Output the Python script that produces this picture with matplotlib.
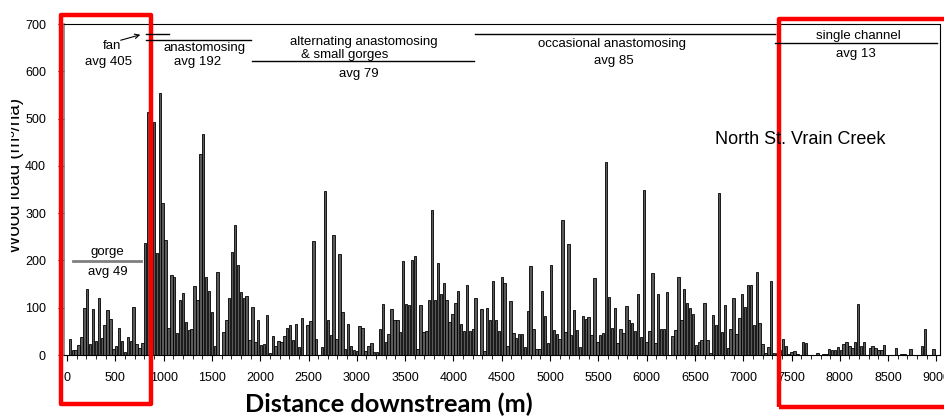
import numpy as np
import matplotlib
matplotlib.use("Agg")
import matplotlib.pyplot as plt
from matplotlib.patches import Rectangle, FancyArrowPatch
from matplotlib.lines import Line2D
from matplotlib.transforms import Bbox

plt.rcParams['font.family'] = ['Liberation Sans', 'DejaVu Sans']

# wood load per ~30 m reach (upstream -> downstream)
wood_load = [
    33, 10, 10, 21, 39, 99, 139, 23, 97, 30,
    120, 35, 63, 96, 77, 13, 19, 57, 29, 6,
    39, 30, 102, 23, 14, 25, 237, 513, 200, 492,
    215, 554, 322, 244,
    58, 170, 164, 47, 116, 132, 69, 53, 55, 146,
    116, 425, 467, 164, 135, 91, 18, 176, 0, 49,
    74, 120, 218, 275, 190, 133, 120, 124, 32, 101,
    28, 75, 21, 23, 85,
    4, 40, 18, 29, 27, 41, 57, 63, 32, 66,
    16, 78, 1, 63, 72, 241, 34, 1, 16, 347,
    74, 42, 254, 33, 213, 91, 12, 65, 20, 11,
    9, 61, 58, 8, 20,
    25, 6, 7, 56, 107, 28, 44, 97, 75, 74,
    49, 199, 107, 106, 200, 209, 12, 106, 49, 51,
    116, 306, 116, 194, 130, 153, 116, 69, 87, 111,
    136, 65, 51, 147, 51, 54, 121, 0, 97, 8,
    99, 75, 156, 74, 51, 164, 152, 18, 114, 47,
    37, 44, 44, 16, 92, 188, 56, 12, 12, 136,
    83, 26, 190, 53, 44, 34, 285, 48, 234, 42,
    95, 53, 16, 83, 76, 80, 42, 162, 28, 42,
    46, 408, 123, 58, 100,
    26, 56, 47, 104, 73, 67, 51, 128, 39, 350,
    27, 51, 174, 25, 130, 55, 56, 134, 0, 41,
    53, 164, 73, 139, 109, 100, 86, 21, 28, 32,
    109, 32, 4, 85, 63, 342, 49, 106, 14, 55,
    120, 44, 78, 128, 102, 147, 149, 63, 176, 67,
    23, 5, 16, 156, 4, 5, 11, 33, 20, 2,
    6, 8, 2, 0, 27, 25, 0, 1, 1, 4,
    1, 2, 2, 13, 10, 10, 16, 10, 23, 27,
    19, 14, 27, 108, 19, 27, 0, 14, 18, 14,
    10, 10, 22, 1, 1, 0, 14, 0, 3, 2,
    0, 12, 0, 0, 0, 18, 56, 0, 0, 13,
]
reach_length = 30
distance = np.arange(1, len(wood_load) + 1) * reach_length

# reach types and their average wood load
zones = ["fan", "anastomosing", "alternating anastomosing\n& small gorges",
         "occasional anastomosing", "single channel", "gorge"]
zone_avg = [405, 192, 79, 85, 13, 49]

W, H = 945, 417

def fp(x, y):
  # pixel position (from top-left) -> figure fraction
  return x / W, 1 - y / H

fig = plt.figure(figsize=(W / 100, H / 100), dpi=100)
ax = fig.add_axes([64 / W, 1 - 355 / H, 876 / W, 331 / H])
ax.bar(distance, wood_load, width=25, color='#5a5a5a', edgecolor='black', linewidth=0.6)
ax.set_xlim(-31, 9037)
ax.set_ylim(0, 700)
ax.set_xticks(range(0, 9001, 500))
ax.set_xticks(range(0, 9001, 100), minor=True)
ax.set_yticks(range(0, 701, 100))
ax.tick_params(axis='both', which='major', labelsize=9, length=4, direction='out')
ax.tick_params(axis='x', which='minor', length=3)
ax.tick_params(axis='x', pad=8)
ax.tick_params(axis='y', pad=9)
ax.spines['left'].set_color('#808080')
ax.spines['left'].set_linewidth(1.2)

# annotation lines (pixel coords)
def hline(x0, x1, y, color='black', lw=1.0):
  a, b = fp(x0, y)
  c, _ = fp(x1, y)
  fig.add_artist(Line2D([a, c], [b, b], color=color, lw=lw, transform=fig.transFigure))

hline(146, 169, 34)
hline(146, 251, 40)
hline(252, 474, 61)
hline(475, 775, 34)
hline(775, 937, 43)
hline(73, 141, 261, color='#808080', lw=2.0)
fig.add_artist(FancyArrowPatch(fp(118, 41), fp(143, 34), transform=fig.transFigure,
                               arrowstyle='->', mutation_scale=8, lw=0.8, color='black'))

def label(x, y, s, size=9.5):
  fig.text(*fp(x, y), s, ha='center', va='center', fontsize=size)

label(112, 46, zones[0])
label(109, 62, "avg %d" % zone_avg[0])
label(205, 48, zones[1])
label(198, 62, "avg %d" % zone_avg[1])
alt = zones[2].split("\n")
label(364, 42, alt[0])
label(345, 55, alt[1])
label(359, 74, "avg %d" % zone_avg[2])
label(612, 44, zones[3])
label(614, 61, "avg %d" % zone_avg[3])
label(858, 36, zones[4])
label(856, 54, "avg %d" % zone_avg[4])
label(107, 252, zones[5])
label(108, 272, "avg %d" % zone_avg[5])
label(800, 140, "North St. Vrain Creek", size=13)

fig.text(*fp(389, 404), "Distance downstream (m)", ha='center', va='center',
         fontsize=18.3, fontweight='bold', family=['Lato', 'DejaVu Sans'])

# y label is cut off on the left in the original
ylab = fig.text(*fp(20, 175), "Wood load (m\u00b3/ha)", ha='center', va='baseline',
                rotation=90, rotation_mode='anchor', fontsize=13.5)
ylab.set_clip_box(Bbox.from_extents(11, 0, 40, H))
ylab.set_clip_on(True)

# red highlight boxes
for x0, y0, x1, y1 in [(61, 15, 151, 404), (779, 19, 965, 407)]:
  fig.add_artist(Rectangle(fp(x0, y1), (x1 - x0) / W, (y1 - y0) / H, transform=fig.transFigure,
                           fill=False, edgecolor='red', lw=3.2, joinstyle='round'))

fig.savefig("out.png", dpi=100)
